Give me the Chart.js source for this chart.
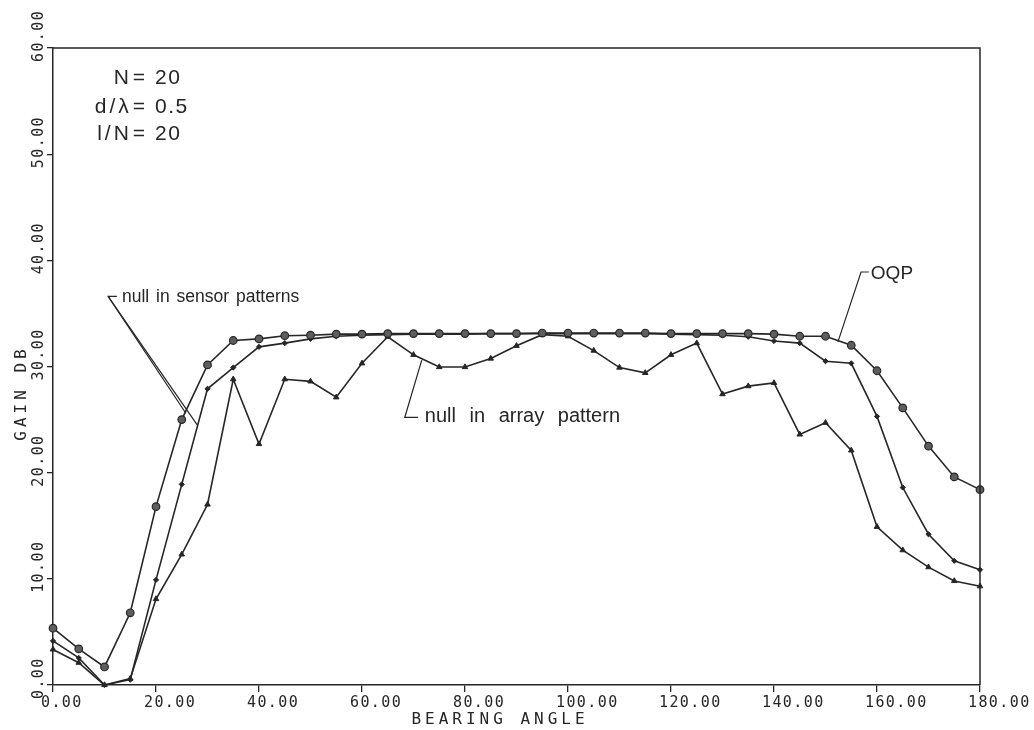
<!DOCTYPE html>
<html>
<head>
<meta charset="utf-8">
<script src="https://cdn.jsdelivr.net/npm/chart.js@4.4.1/dist/chart.umd.min.js"></script>
<style>
  html, body { margin: 0; padding: 0; background: #fff; }
  canvas { display: block; }
</style>
</head>
<body>
<canvas id="gainChart" width="1034" height="730"></canvas>
<script>
// bearing angle in degrees, one sample every 5 degrees
const bearingAngles = [0, 5, 10, 15, 20, 25, 30, 35, 40, 45, 50, 55, 60, 65, 70, 75, 80, 85, 90,
  95, 100, 105, 110, 115, 120, 125, 130, 135, 140, 145, 150, 155, 160, 165, 170, 175, 180];

// gain in dB
const oqpGain = [5.35, 3.4, 1.7, 6.8, 16.8, 25.0, 30.15, 32.45, 32.6, 32.9, 32.95, 33.05, 33.05,
  33.1, 33.1, 33.1, 33.1, 33.1, 33.1, 33.15, 33.15, 33.15, 33.15, 33.15, 33.1, 33.1, 33.1, 33.1,
  33.05, 32.85, 32.85, 32.0, 29.6, 26.1, 22.5, 19.6, 18.4];
const sensorNullGain = [4.15, 2.55, 0.0, 0.5, 9.9, 18.9, 27.9, 29.9, 31.85, 32.2, 32.6, 32.85, 32.95,
  33.0, 33.05, 33.05, 33.05, 33.1, 33.1, 33.1, 33.1, 33.1, 33.1, 33.1, 33.05, 33.0, 32.95, 32.8,
  32.4, 32.2, 30.5, 30.3, 25.3, 18.6, 14.2, 11.7, 10.85];
const arrayNullGain = [3.35, 2.1, 0.0, 0.6, 8.1, 12.3, 17.0, 28.8, 22.7, 28.8, 28.6, 27.1, 30.3,
  32.8, 31.1, 29.95, 29.95, 30.75, 31.95, 33.0, 32.85, 31.5, 29.9, 29.4, 31.1, 32.2, 27.4, 28.15,
  28.45, 23.6, 24.7, 22.1, 14.9, 12.7, 11.1, 9.8, 9.3];

const xTicks = [0, 20, 40, 60, 80, 100, 120, 140, 160, 180];
const yTicks = [0, 10, 20, 30, 40, 50, 60];

const ink = '#262626';
const plotFont = '"DejaVu Sans Mono", monospace';
const textFont = '"Liberation Sans", Arial, sans-serif';

const toPoints = (vals) => bearingAngles.map((a, i) => ({ x: a, y: vals[i] }));

// tick labels, axis titles, frame and the curve labels
const plotterText = {
  id: 'plotterText',
  afterDraw(chart) {
    const { ctx, chartArea: area, scales: { x, y } } = chart;
    const px = v => x.getPixelForValue(v);
    const py = v => y.getPixelForValue(v);
    ctx.save();

    // top and right frame
    ctx.strokeStyle = ink;
    ctx.lineWidth = 1.5;
    ctx.beginPath();
    ctx.moveTo(area.left, area.top);
    ctx.lineTo(area.right, area.top);
    ctx.lineTo(area.right, area.bottom);
    ctx.stroke();

    ctx.fillStyle = ink;
    ctx.font = '15px ' + plotFont;
    ctx.letterSpacing = '1.4px';

    // x tick labels
    ctx.textAlign = 'left';
    ctx.textBaseline = 'alphabetic';
    xTicks.forEach(t => ctx.fillText(t.toFixed(2), px(t) - 12, area.bottom + 22));

    // y tick labels, rotated
    yTicks.forEach(t => {
      ctx.save();
      ctx.translate(area.left - 10, py(t) + 14);
      ctx.rotate(-Math.PI / 2);
      ctx.fillText(t.toFixed(2), 0, 0);
      ctx.restore();
    });

    // axis titles
    ctx.font = '16px ' + plotFont;
    ctx.letterSpacing = '4px';
    ctx.textAlign = 'center';
    ctx.fillText('BEARING ANGLE', 500, 724);
    ctx.save();
    ctx.translate(26, 393);
    ctx.rotate(-Math.PI / 2);
    ctx.fillText('GAIN DB', 0, 0);
    ctx.restore();

    // parameter block
    ctx.font = '21px ' + textFont;
    const params = [['N', '20', 56.6], ['d/\u03bb', '0.5', 53.9], ['l/N', '20', 51.3]];
    params.forEach(([k, v, yy]) => {
      ctx.letterSpacing = '3px';
      ctx.textAlign = 'right';
      ctx.fillText(k, px(15.3), py(yy));
      ctx.letterSpacing = '1.5px';
      ctx.textAlign = 'center';
      ctx.fillText('=', px(16.8), py(yy));
      ctx.textAlign = 'left';
      ctx.fillText(v, px(19.8), py(yy));
    });

    // curve labels with leaders
    ctx.letterSpacing = '0px';
    ctx.lineWidth = 1.2;
    const leader = (pts) => {
      ctx.beginPath();
      pts.forEach(([a, b], i) => i ? ctx.lineTo(px(a), py(b)) : ctx.moveTo(px(a), py(b)));
      ctx.stroke();
    };
    ctx.wordSpacing = '2px';
    ctx.textAlign = 'left';
    ctx.font = '17.5px ' + textFont;
    ctx.fillText('null in sensor patterns', px(13.4), py(36.1));
    leader([[12.4, 36.6], [10.7, 36.6], [25.8, 25.6]]);
    leader([[10.7, 36.6], [28.0, 24.5]]);

    ctx.font = '19px ' + textFont;
    ctx.fillText('OQP', px(158.8), py(38.2));
    leader([[158.4, 38.9], [156.9, 38.9], [152.4, 32.3]]);

    ctx.wordSpacing = '8px';
    ctx.font = '20px ' + textFont;
    ctx.fillText('null in array pattern', px(72.2), py(24.8));
    leader([[71.6, 30.6], [68.3, 25.2], [70.9, 25.2]]);

    ctx.restore();
  }
};

const ctx = document.getElementById('gainChart').getContext('2d');
const gainChart = new Chart(ctx, {
  type: 'line',
  data: {
    datasets: [{
      label: 'OQP',
      data: toPoints(oqpGain),
      borderColor: ink,
      borderWidth: 1.6,
      pointStyle: 'circle',
      pointRadius: 3.8,
      pointBackgroundColor: '#5e5e5e',
      pointBorderColor: ink,
      pointBorderWidth: 1.2,
      tension: 0,
      clip: false
    }, {
      label: 'null in sensor patterns',
      data: toPoints(sensorNullGain),
      borderColor: ink,
      borderWidth: 1.6,
      pointStyle: 'rectRot',
      pointRadius: 2.6,
      pointBackgroundColor: ink,
      pointBorderColor: ink,
      pointBorderWidth: 1,
      tension: 0,
      clip: false
    }, {
      label: 'null in array pattern',
      data: toPoints(arrayNullGain),
      borderColor: ink,
      borderWidth: 1.6,
      pointStyle: 'triangle',
      pointRadius: 3.2,
      pointBackgroundColor: ink,
      pointBorderColor: ink,
      pointBorderWidth: 1,
      tension: 0,
      clip: false
    }]
  },
  options: {
    responsive: false,
    animation: false,
    layout: { padding: { top: 48, right: 54, left: 0, bottom: 0 } },
    plugins: { legend: { display: false }, tooltip: { enabled: false } },
    elements: { point: { hoverRadius: 3 } },
    scales: {
      x: {
        type: 'linear', min: 0, max: 180,
        afterFit: s => { s.height = 45; },
        afterBuildTicks: s => { s.ticks = xTicks.map(v => ({ value: v })); },
        ticks: { display: false },
        grid: { drawOnChartArea: false, drawTicks: true, tickLength: 7, color: ink, lineWidth: 1.3 },
        border: { display: true, color: ink, width: 1.5 }
      },
      y: {
        type: 'linear', min: 0, max: 60,
        afterFit: s => { s.width = 53; },
        afterBuildTicks: s => { s.ticks = yTicks.map(v => ({ value: v })); },
        ticks: { display: false },
        grid: { drawOnChartArea: false, drawTicks: true, tickLength: 6, color: ink, lineWidth: 1.3 },
        border: { display: true, color: ink, width: 1.5 }
      }
    }
  },
  plugins: [plotterText]
});
</script>
</body>
</html>
